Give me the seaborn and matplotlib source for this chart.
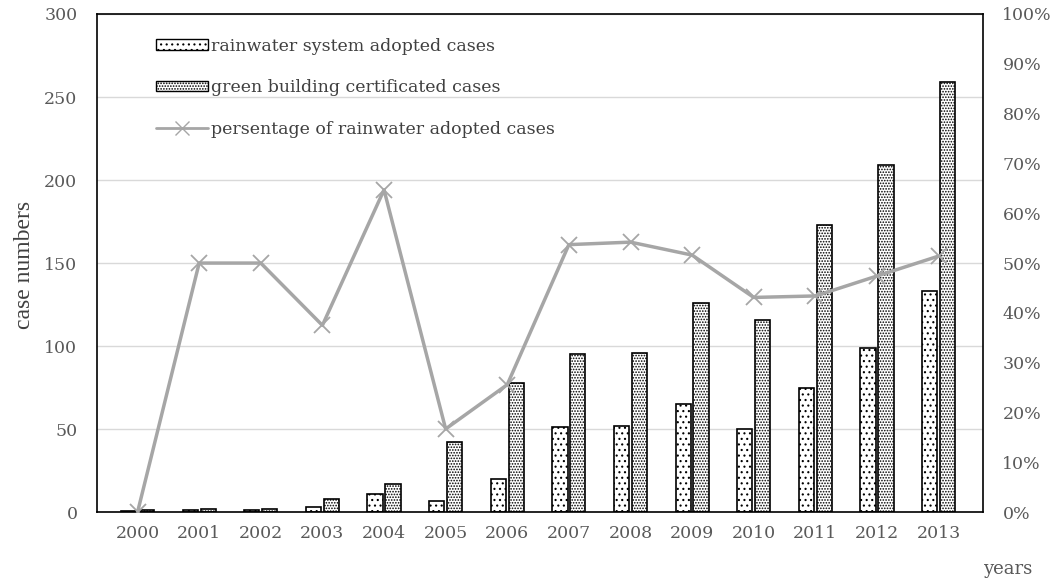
import matplotlib
matplotlib.use("Agg")
import matplotlib.pyplot as plt
import seaborn as sns
import pandas as pd
from matplotlib.patches import Patch
from matplotlib.lines import Line2D

years = ["2000", "2001", "2002", "2003", "2004", "2005", "2006",
         "2007", "2008", "2009", "2010", "2011", "2012", "2013"]
rainwater_cases = [0.5, 1, 1, 3, 11, 7, 20, 51, 52, 65, 50, 75, 99, 133]
green_cases = [1, 2, 2, 8, 17, 42, 78, 95, 96, 126, 116, 173, 209, 259]
rain_pct = [0, 50, 50, 37.5, 64.7, 16.7, 25.6, 53.7, 54.2, 51.6, 43.1, 43.4, 47.4, 51.4]

s_rain = "rainwater system adopted cases"
s_green = "green building certificated cases"
s_pct = "persentage of rainwater adopted cases"

df = pd.DataFrame({
    "year": years * 2,
    "cases": rainwater_cases + green_cases,
    "series": [s_rain] * len(years) + [s_green] * len(years),
})

sns.set_style("white")
plt.rcParams["hatch.linewidth"] = 0.8
tick_grey = "#595959"
tick_font = "DejaVu Serif"
tick_size = 12.5

fig = plt.figure(figsize=(10.53, 5.82), dpi=100)
ax = fig.add_axes([0.092, 0.120, 0.8415, 0.856])

sns.barplot(data=df, x="year", y="cases", hue="series", order=years,
            hue_order=[s_rain, s_green], palette=["white", "white"],
            edgecolor="black", linewidth=1.2, width=0.58, gap=0.15,
            legend=False, ax=ax)
hatches = ["...", "......"]
for cont, h in zip(ax.containers, hatches):
    for p in cont:
        p.set_hatch(h)

ax.set_ylim(0, 300)
ax.set_yticks(range(0, 301, 50))
ax.set_xlim(-0.66, 13.72)
ax.yaxis.grid(True, color="#d9d9d9", linewidth=1)
ax.set_axisbelow(True)
for sp in ax.spines.values():
    sp.set_color("black")
    sp.set_linewidth(1.2)
ax.tick_params(axis="y", length=0, labelsize=tick_size, labelcolor=tick_grey, pad=14)
ax.tick_params(axis="x", length=0, labelsize=tick_size, labelcolor=tick_grey, pad=9)
for lab in ax.get_xticklabels() + ax.get_yticklabels():
    lab.set_family(tick_font)
ax.set_xlabel("")
ax.set_ylabel("case numbers", family="Liberation Serif", fontsize=17,
              color="#404040")
ax.yaxis.set_label_coords(-0.07, 0.496)

ax2 = ax.twinx()
pos = list(range(len(years)))
sns.lineplot(x=pos, y=rain_pct, ax=ax2, color="#a6a6a6", linewidth=2.5,
             marker="x", markersize=12, markeredgewidth=1.3,
             markeredgecolor="#a6a6a6")
ax2.set_ylim(0, 100)
ax2.set_yticks(range(0, 101, 10))
ax2.set_yticklabels([f"{v}%" for v in range(0, 101, 10)])
ax2.tick_params(axis="y", length=0, labelsize=tick_size, labelcolor=tick_grey, pad=14)
for lab in ax2.get_yticklabels():
    lab.set_family(tick_font)
for sp in ax2.spines.values():
    sp.set_visible(False)

fig.text(1008 / 1053, 1 - 569 / 582, "years", family=tick_font, fontsize=13,
         color=tick_grey, ha="center", va="center")

handles = [
    Patch(facecolor="white", edgecolor="black", hatch="...", linewidth=1),
    Patch(facecolor="white", edgecolor="black", hatch="......", linewidth=1),
    Line2D([0], [0], color="#a6a6a6", linewidth=2, marker="x",
           markersize=10, markeredgecolor="#a6a6a6"),
]
leg = ax.legend(handles, [s_rain, s_green, s_pct], loc="upper left",
                bbox_to_anchor=(0.049, 0.984), frameon=False,
                prop={"family": "DejaVu Serif", "size": 12.5},
                handlelength=3.0, handleheight=0.55, handletextpad=0.2,
                labelspacing=1.42, labelcolor="#404040")

fig.savefig("out.png", dpi=100)
